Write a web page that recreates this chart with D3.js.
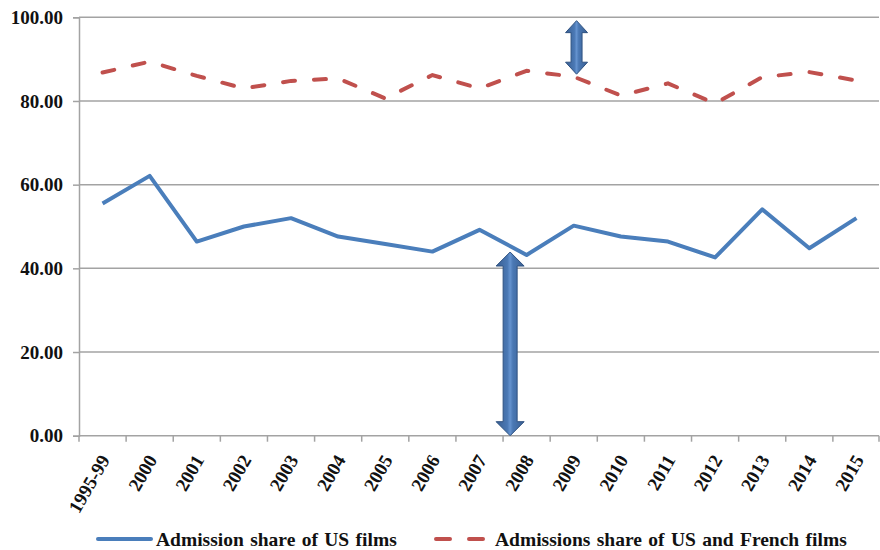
<!DOCTYPE html>
<html>
<head>
<meta charset="utf-8">
<script src="https://cdn.jsdelivr.net/npm/d3@7"></script>
<style>
  html, body { margin: 0; padding: 0; background: #fff; }
  svg { display: block; }
  text { font-family: "Liberation Serif", "Times New Roman", serif; font-weight: bold; fill: #111; }
</style>
</head>
<body>
<svg id="chart" width="880" height="550"></svg>
<script>
// Categories (years) on the x axis
const categories = ["1995-99", "2000", "2001", "2002", "2003", "2004", "2005", "2006", "2007",
                    "2008", "2009", "2010", "2011", "2012", "2013", "2014", "2015"];

// Admission share of US films (%)
const usShare = [55.5, 62.1, 46.4, 50.0, 52.0, 47.6, 45.8, 44.0, 49.2,
                 43.2, 50.2, 47.6, 46.4, 42.6, 54.1, 44.8, 52.0];

// Admissions share of US and French films (%)
const usFrenchShare = [86.8, 89.4, 86.0, 83.0, 84.8, 85.4, 80.6, 86.2, 83.0,
                       87.2, 85.8, 81.3, 84.2, 79.4, 85.7, 86.9, 84.9];

// Y axis tick values
const yTicks = [0, 20, 40, 60, 80, 100];

// Series names for the legend
const seriesNames = ["Admission share of US films", "Admissions share of US and French films"];

// Double-headed arrows marking the gaps (category, value range)
const gapCategories = ["2009", "2008"];
const gapFrom = [99.2, 0];
const gapTo = [86.4, 43.9];

const svg = d3.select("#chart");

const x = d3.scaleBand().domain(categories).range([79, 880]);
const y = d3.scaleLinear().domain([0, 100]).range([435.7, 17.3]);

const gridColor = "#a3a3a3";

// horizontal gridlines
svg.append("g")
  .selectAll("line")
  .data(yTicks.filter(d => d > 0))
  .join("line")
  .attr("x1", 79).attr("x2", 879)
  .attr("y1", d => y(d)).attr("y2", d => y(d))
  .attr("stroke", gridColor).attr("stroke-width", 1.5);

// y axis
const yAxis = svg.append("g")
  .attr("transform", "translate(79,0)")
  .call(d3.axisLeft(y).tickValues(yTicks).tickFormat(d3.format(".2f")).tickSize(6).tickPadding(10));
yAxis.select(".domain").attr("stroke", gridColor).attr("stroke-width", 1.5);
yAxis.selectAll(".tick line").attr("stroke", gridColor).attr("stroke-width", 1.5);
yAxis.selectAll(".tick text").style("font-size", "19px").attr("fill", "#111");

// x axis baseline
svg.append("line")
  .attr("x1", 79).attr("x2", 879)
  .attr("y1", y(0)).attr("y2", y(0))
  .attr("stroke", gridColor).attr("stroke-width", 1.5);

// x ticks on category boundaries
const boundaries = categories.map(c => x(c)).concat([x.range()[1] - 1]);
svg.append("g")
  .selectAll("line")
  .data(boundaries)
  .join("line")
  .attr("x1", d => d).attr("x2", d => d)
  .attr("y1", y(0)).attr("y2", y(0) + 6)
  .attr("stroke", gridColor).attr("stroke-width", 1.5);

// rotated category labels
const xAxis = svg.append("g")
  .attr("transform", `translate(0,${y(0)})`)
  .call(d3.axisBottom(x).tickSize(0).tickPadding(0));
xAxis.select(".domain").remove();
xAxis.selectAll(".tick text")
  .style("font-size", "19px")
  .attr("text-anchor", "end")
  .attr("fill", "#111")
  .attr("dy", null)
  .attr("y", 0)
  .attr("transform", "translate(8,24) rotate(-60)");

const cx = c => x(c) + x.bandwidth() / 2;

// US films line
svg.append("path")
  .datum(usShare)
  .attr("fill", "none")
  .attr("stroke", "#4a7ebb")
  .attr("stroke-width", 4)
  .attr("stroke-linejoin", "round")
  .attr("d", d3.line().x((d, i) => cx(categories[i])).y(d => y(d)));

// US + French films line (dashed)
svg.append("path")
  .datum(usFrenchShare)
  .attr("fill", "none")
  .attr("stroke", "#c0504d")
  .attr("stroke-width", 4)
  .attr("stroke-linecap", "round")
  .attr("stroke-dasharray", "12,19")
  .attr("d", d3.line().x((d, i) => cx(categories[i])).y(d => y(d)));

// gradient for the arrows
const defs = svg.append("defs");
const grad = defs.append("linearGradient").attr("id", "arrowGrad")
  .attr("x1", "0%").attr("x2", "100%").attr("y1", "0%").attr("y2", "0%");
grad.append("stop").attr("offset", "0%").attr("stop-color", "#3a5f92");
grad.append("stop").attr("offset", "40%").attr("stop-color", "#4a78b4");
grad.append("stop").attr("offset", "50%").attr("stop-color", "#6593cf");
grad.append("stop").attr("offset", "60%").attr("stop-color", "#4a78b4");
grad.append("stop").attr("offset", "100%").attr("stop-color", "#3a5f92");

function doubleArrow(xc, y1, y2, headW, headH, shaftW) {
  const top = Math.min(y1, y2), bot = Math.max(y1, y2);
  const hw = headW / 2, sw = shaftW / 2;
  return `M${xc},${top} L${xc + hw},${top + headH} L${xc + sw},${top + headH}
          L${xc + sw},${bot - headH} L${xc + hw},${bot - headH} L${xc},${bot}
          L${xc - hw},${bot - headH} L${xc - sw},${bot - headH} L${xc - sw},${top + headH}
          L${xc - hw},${top + headH} Z`;
}

const arrowOffsets = [0.56, 0.15];
const arrowSizes = [[22, 12, 11], [28, 14, 14]];
gapCategories.forEach((c, i) => {
  const xc = x(c) + x.bandwidth() * arrowOffsets[i];
  const [hw, hh, sw] = arrowSizes[i];
  svg.append("path")
    .attr("d", doubleArrow(xc, y(gapFrom[i]), y(gapTo[i]), hw, hh, sw))
    .attr("fill", "url(#arrowGrad)")
    .attr("stroke", "#2f5281")
    .attr("stroke-width", 1);
});

// legend
const legend = svg.append("g");
legend.append("line")
  .attr("x1", 98).attr("x2", 151).attr("y1", 539).attr("y2", 539)
  .attr("stroke", "#4a7ebb").attr("stroke-width", 4).attr("stroke-linecap", "round");
legend.append("text")
  .attr("x", 156).attr("y", 546)
  .style("font-size", "19.5px")
  .style("word-spacing", "1.5px")
  .text(seriesNames[0]);
legend.append("line")
  .attr("x1", 436).attr("x2", 484).attr("y1", 539).attr("y2", 539)
  .attr("stroke", "#c0504d").attr("stroke-width", 4).attr("stroke-linecap", "round")
  .attr("stroke-dasharray", "14,19");
legend.append("text")
  .attr("x", 495).attr("y", 546)
  .style("font-size", "19.5px")
  .style("word-spacing", "1.5px")
  .text(seriesNames[1]);
</script>
</body>
</html>
